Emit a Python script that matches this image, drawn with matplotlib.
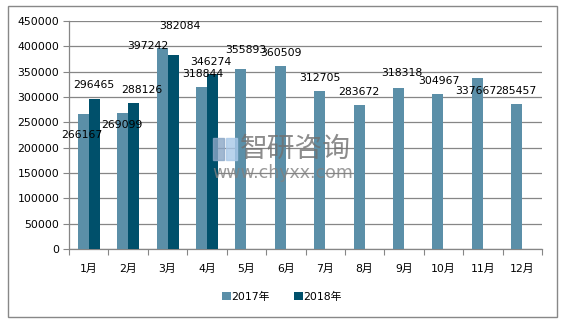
import matplotlib
matplotlib.use('Agg')
import matplotlib.pyplot as plt
import numpy as np
from matplotlib.patches import Rectangle

plt.rcParams['font.family'] = ['DejaVu Sans', 'Noto Sans CJK SC']

months = ['1月', '2月', '3月', '4月', '5月', '6月', '7月', '8月', '9月', '10月', '11月', '12月']
v2017 = [266167, 269099, 397242, 318844, 355893, 360509, 312705, 283672, 318318, 304967, 337667, 285457]
v2018 = [296465, 288126, 382084, 346274]
series_names = ['2017年', '2018年']

# label offsets in pixels (dx, dy) from bar top, like the excel export
off2017 = [(-1, -21), (-1, -12), (-14, 2), (1, 13), (5, 19), (1, 13),
           (0, 13), (0, 13), (3, 15), (1, 13), (-2, -13), (-1, 13)]
off2018 = [(0, 14), (8, 13), (7, 29), (-2, 12)]

c2017 = '#5b8fa8'
c2018 = '#00506b'
grid_c = '#868686'

fig = plt.figure(figsize=(5.64, 3.21), dpi=100)
ax = fig.add_axes([69/564, 1-249/321, (542-69)/564, (249-21)/321])

x = np.arange(len(months))
w = 0.28
b1 = ax.bar(x - w/2, v2017, w, color=c2017, label=series_names[0], zorder=3)
b2 = ax.bar(x[:len(v2018)] + w/2, v2018, w, color=c2018, label=series_names[1], zorder=3)

for bars, vals, offs in [(b1, v2017, off2017), (b2, v2018, off2018)]:
    for r, v, (dx, dy) in zip(bars, vals, offs):
        ax.annotate(str(v), (r.get_x() + r.get_width()/2, v), xytext=(dx, dy),
                    textcoords='offset pixels', ha='center', va='center',
                    fontsize=7.8, color='black', zorder=5)

ax.set_xlim(-0.5, len(months) - 0.5)
ax.set_ylim(0, 450000)
ax.set_yticks(np.arange(0, 450001, 50000))
ax.set_yticklabels([str(t) for t in range(0, 450001, 50000)], fontsize=7.8)
ax.yaxis.grid(True, color=grid_c, linewidth=0.9, zorder=0)
ax.set_xticks(np.arange(-0.5, len(months), 1))
ax.set_xticklabels([])
ax.set_xticks(x, minor=True)
ax.set_xticklabels(months, minor=True, fontsize=7.8)
ax.tick_params(axis='x', which='major', length=4, color=grid_c, direction='out')
ax.tick_params(axis='x', which='minor', length=0, pad=11)
ax.tick_params(axis='y', length=4, color=grid_c, pad=3)
for s in ['top', 'right']:
    ax.spines[s].set_visible(False)
for s in ['left', 'bottom']:
    ax.spines[s].set_color(grid_c)
    ax.spines[s].set_linewidth(0.9)

leg = fig.legend(handles=[b1, b2], loc='center', bbox_to_anchor=(0.5, 1-297/321),
                 ncol=2, frameon=False, fontsize=7.8, handlelength=0.8, handleheight=0.8,
                 handletextpad=0.1, columnspacing=2.2)

# outer border
fig.patches.append(Rectangle((8/564, 1-317/321), 549/564, 311/321, transform=fig.transFigure,
                             fill=False, edgecolor='#888888', linewidth=1))

# watermark
fig.patches.append(Rectangle((213/564, 1-160/321), 11/564, 22/321, transform=fig.transFigure,
                             color='#8aa6c6', alpha=0.8, zorder=6))
fig.patches.append(Rectangle((226/564, 1-160/321), 11/564, 22/321, transform=fig.transFigure,
                             color='#a8c8e8', alpha=0.8, zorder=6))
fig.text(295/564, 1-149/321, '智研咨询', family=['Noto Sans CJK SC'], fontsize=20,
         color='#707070', alpha=0.8, ha='center', va='center', zorder=6)
fig.text(283/564, 1-173/321, 'www.chyxx.com', fontsize=12.5, color='#808080', alpha=0.8,
         ha='center', va='center', zorder=6)

fig.savefig('out.png', dpi=100)
